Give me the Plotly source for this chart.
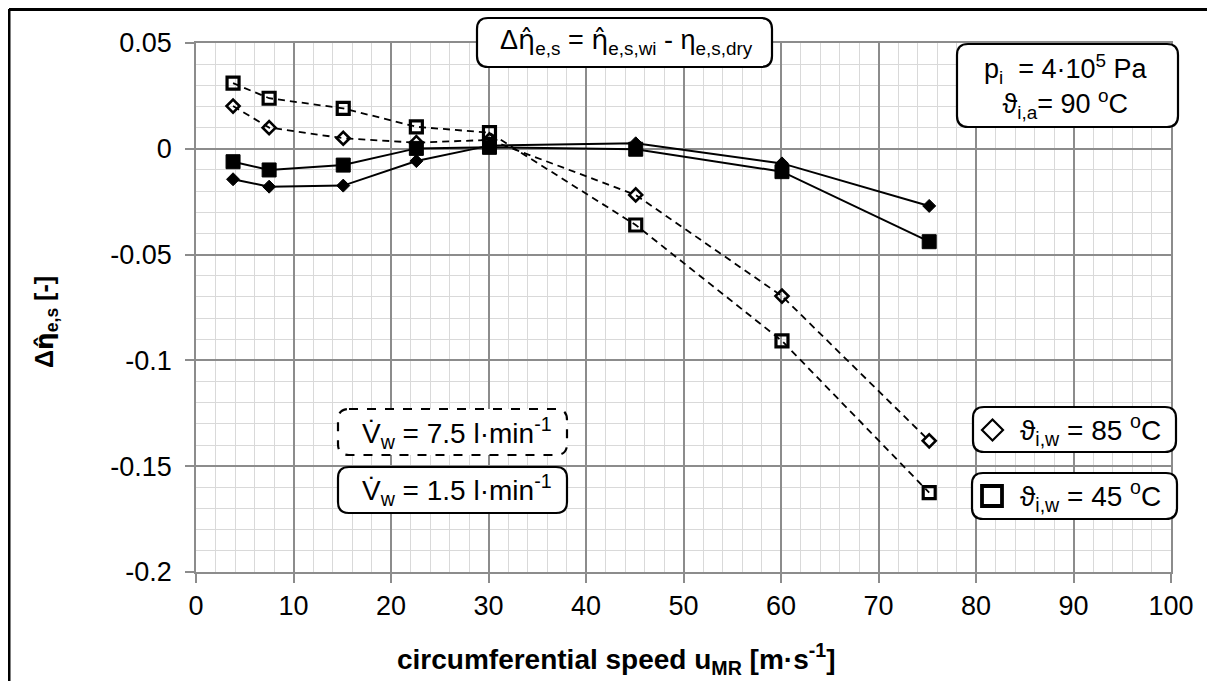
import plotly.graph_objects as go

# ---------------- data ----------------
u_MR = [3.8, 7.5, 15.1, 22.6, 30.1, 45.1, 60.1, 75.2]
eta_85_v75 = [0.0202, 0.0100, 0.0050, 0.0029, 0.0042, -0.0218, -0.0696, -0.1380]   # open diamonds, dashed
eta_45_v75 = [0.0310, 0.0239, 0.0191, 0.0104, 0.0076, -0.0360, -0.0908, -0.1625]   # open squares, dashed
eta_85_v15 = [-0.0144, -0.0179, -0.0174, -0.0058, 0.0015, 0.0026, -0.0069, -0.0270] # filled diamonds, solid
eta_45_v15 = [-0.0061, -0.0100, -0.0077, 0.0002, 0.0007, -0.0002, -0.0108, -0.0439] # filled squares, solid

x_ticks = [0, 10, 20, 30, 40, 50, 60, 70, 80, 90, 100]
y_ticks = [0.05, 0, -0.05, -0.1, -0.15, -0.2]
y_tick_labels = ["0.05", "0", "-0.05", "-0.1", "-0.15", "-0.2"]

# ---------------- layout geometry (window pixels) ----------------
WIN_W, WIN_H = 1215, 681
OFF = 8                      # page body margin
FW, FH = WIN_W - 2 * OFF, WIN_H - OFF
PL, PR, PT, PB = 196, 1171, 43, 572    # plot area in window pixels
L, T = PL - OFF, PT - OFF
R, B = FW + OFF - PR, FH + OFF - PB
PW, PH = PR - PL, PB - PT
FONT = "Liberation Sans, Arial, sans-serif"


def px(xp):
    return (xp - PL) / PW


def py(yp):
    return (PB - yp) / PH


def rounded(x0, y0, x1, y1, r=10):
    pts = [
        ("M", [(x0 + r, y0)]), ("L", [(x1 - r, y0)]), ("Q", [(x1, y0), (x1, y0 + r)]),
        ("L", [(x1, y1 - r)]), ("Q", [(x1, y1), (x1 - r, y1)]), ("L", [(x0 + r, y1)]),
        ("Q", [(x0, y1), (x0, y1 - r)]), ("L", [(x0, y0 + r)]), ("Q", [(x0, y0), (x0 + r, y0)]),
    ]
    s = ""
    for cmd, ps in pts:
        s += cmd + " " + " ".join(f"{px(a):.5f},{py(b):.5f}" for a, b in ps) + " "
    return s + "Z"


fig = go.Figure()

fig.add_trace(go.Scatter(
    x=u_MR, y=eta_85_v75, mode="lines+markers",
    line=dict(color="black", width=1.8, dash="7px,5px"),
    marker=dict(symbol="diamond-open", size=10, color="black", line=dict(width=2.6, color="black")),
    showlegend=False))
fig.add_trace(go.Scatter(
    x=u_MR, y=eta_45_v75, mode="lines+markers",
    line=dict(color="black", width=1.8, dash="7px,5px"),
    marker=dict(symbol="square-open", size=12, color="black", line=dict(width=3.2, color="black")),
    showlegend=False))
fig.add_trace(go.Scatter(
    x=u_MR, y=eta_85_v15, mode="lines+markers",
    line=dict(color="black", width=2),
    marker=dict(symbol="diamond", size=10, color="black", line=dict(width=1, color="black")),
    showlegend=False))
fig.add_trace(go.Scatter(
    x=u_MR, y=eta_45_v15, mode="lines+markers",
    line=dict(color="black", width=2),
    marker=dict(symbol="square", size=14, color="black", line=dict(width=1, color="black")),
    showlegend=False))

shapes = []
# outer border (top and left visible)
shapes.append(dict(type="line", xref="paper", yref="paper", x0=px(9), y0=py(9.5), x1=px(FW + OFF), y1=py(9.5),
                   line=dict(color="black", width=3)))
shapes.append(dict(type="line", xref="paper", yref="paper", x0=px(9), y0=py(9), x1=px(9), y1=py(FH + OFF),
                   line=dict(color="black", width=3)))

boxes = [
    (477, 18, 772, 67, "solid"),
    (957, 44, 1178, 127, "solid"),
    (338, 409, 567, 455, "dash"),
    (338, 467, 567, 513, "solid"),
    (973, 407, 1176, 452, "solid"),
    (972, 473, 1177, 519, "solid"),
]
for x0, y0, x1, y1, d in boxes:
    shapes.append(dict(type="path", xref="paper", yref="paper", path=rounded(x0, y0, x1, y1, 11),
                       fillcolor="white", line=dict(color="black", width=2.2, dash=d), layer="above"))

# legend symbols
cx, cy, h = 992.5, 430, 10.5
shapes.append(dict(type="path", xref="paper", yref="paper",
                   path=f"M {px(cx)},{py(cy-h)} L {px(cx+h)},{py(cy)} L {px(cx)},{py(cy+h)} L {px(cx-h)},{py(cy)} Z",
                   fillcolor="white", line=dict(color="black", width=2.2), layer="above"))
shapes.append(dict(type="rect", xref="paper", yref="paper", x0=px(982), y0=py(486), x1=px(1002), y1=py(506),
                   fillcolor="white", line=dict(color="black", width=3.8), layer="above"))

eta_hat = "<span style=\"font-family:'DejaVu Sans'\">\u03b7\u0302</span>"
ann = []


def add_text(xp, yp, text, size=28, angle=0):
    ann.append(dict(xref="paper", yref="paper", x=px(xp), y=py(yp), text=text, showarrow=False,
                    xanchor="center", yanchor="middle", textangle=angle,
                    font=dict(family=FONT, size=size, color="black")))


add_text(626, 42, f"\u0394{eta_hat}<sub>e,s</sub> = {eta_hat}<sub>e,s,wi</sub> - \u03b7<sub>e,s,dry</sub>", 27)
add_text(1066, 86, "p<sub>i</sub>\u00a0\u00a0= 4\u00b710<sup>5</sup> Pa<br>\u03d1<sub>i,a</sub>= 90 <sup>o</sup>C", 27)
add_text(457, 433, "V\u0307<sub>w</sub> = 7.5 l\u00b7min<sup>-1</sup>", 28)
add_text(457, 490, "V\u0307<sub>w</sub> = 1.5 l\u00b7min<sup>-1</sup>", 28)
add_text(1090, 430, "\u03d1<sub>i,w</sub> = 85 <sup>o</sup>C", 28)
add_text(1090, 496, "\u03d1<sub>i,w</sub> = 45 <sup>o</sup>C", 28)
add_text(616, 659, "<b>circumferential speed u<sub>MR</sub> [m\u00b7s<sup>-1</sup>]</b>", 28)
add_text(46, 322, f"<b>\u0394{eta_hat}<sub>e,s</sub> [-]</b>", 25, angle=-90)

axis_common = dict(
    showline=True, linecolor="#8c8c8c", linewidth=1.5, mirror=True,
    showgrid=True, gridcolor="#8c8c8c", gridwidth=1.8, zeroline=False,
    ticks="outside", ticklen=9, tickwidth=1.5, tickcolor="#8c8c8c",
    tickfont=dict(family=FONT, size=27, color="black"),
)

fig.update_layout(
    width=FW, height=FH,
    margin=dict(l=L, r=R, t=T, b=B),
    paper_bgcolor="white", plot_bgcolor="white",
    shapes=shapes, annotations=ann,
    xaxis=dict(range=[0, 100], tickvals=x_ticks, ticktext=[str(v) for v in x_ticks],
               minor=dict(dtick=2, showgrid=True, gridcolor="#d9d9d9", gridwidth=1), **axis_common),
    yaxis=dict(range=[-0.2, 0.05], tickvals=y_ticks, ticktext=y_tick_labels, ticklabelstandoff=8,
               minor=dict(dtick=0.01, tick0=0, showgrid=True, gridcolor="#d9d9d9", gridwidth=1), **axis_common),
)

fig.write_html("out.html")
